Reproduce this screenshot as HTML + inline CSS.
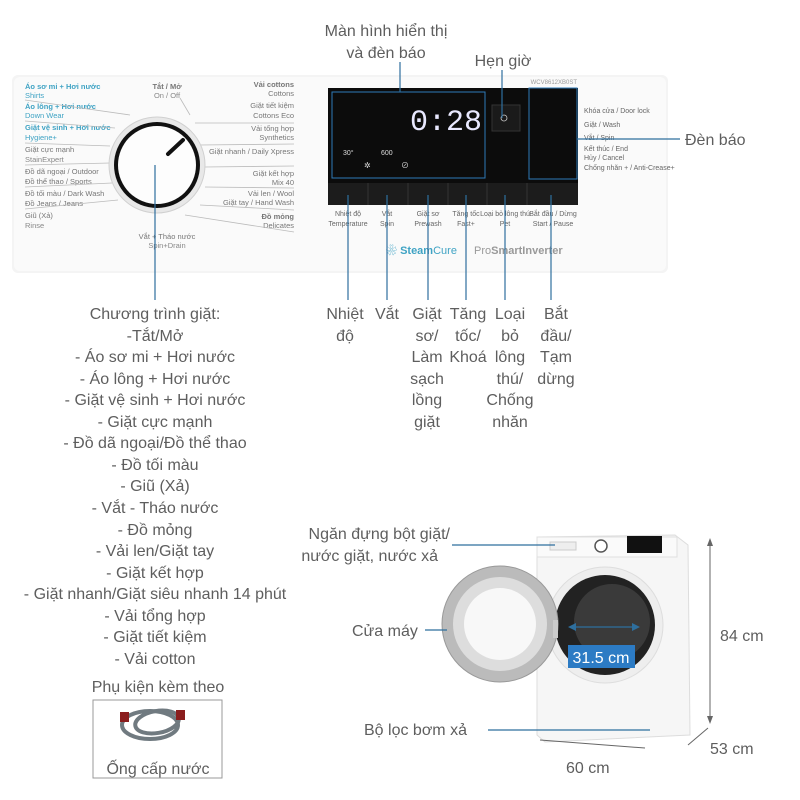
<!DOCTYPE html>
<html><head><meta charset="utf-8"><style>
html,body{margin:0;padding:0;background:#fff;}
svg{display:block;font-family:"Liberation Sans","Noto Sans CJK SC",sans-serif;}
.t{fill:#5e5e5e;font-size:16px;}
.s{fill:#666;font-size:7px;}
</style></head><body>
<svg width="800" height="800" viewBox="0 0 800 800" xmlns="http://www.w3.org/2000/svg">
<rect x="12" y="75" width="656" height="198" rx="6" fill="#f4f4f4"/>
<rect x="14" y="77" width="652" height="194" rx="6" fill="#fafafa"/>
<g font-size="7.5">
<text x="25" y="89" fill="#3fa3c4" font-weight="bold">Áo sơ mi + Hơi nước</text>
<text x="25" y="98" fill="#3fa3c4">Shirts</text>
<text x="25" y="109" fill="#3fa3c4" font-weight="bold">Áo lông + Hơi nước</text>
<text x="25" y="118" fill="#3fa3c4">Down Wear</text>
<text x="25" y="130" fill="#3fa3c4" font-weight="bold">Giặt vệ sinh + Hơi nước</text>
<text x="25" y="140" fill="#3fa3c4">Hygiene+</text>
<text x="25" y="152" fill="#777">Giặt cực mạnh</text>
<text x="25" y="162" fill="#888">StainExpert</text>
<text x="25" y="174" fill="#777">Đồ dã ngoại / Outdoor</text>
<text x="25" y="184" fill="#777">Đồ thể thao / Sports</text>
<text x="25" y="196" fill="#777">Đồ tối màu / Dark Wash</text>
<text x="25" y="206" fill="#777">Đồ Jeans / Jeans</text>
<text x="25" y="218" fill="#777">Giũ (Xả)</text>
<text x="25" y="228" fill="#888">Rinse</text>
<text x="167" y="89" fill="#777" text-anchor="middle" font-weight="bold">Tắt / Mở</text>
<text x="167" y="98" fill="#888" text-anchor="middle">On / Off</text>
<text x="167" y="239" fill="#777" text-anchor="middle">Vắt + Tháo nước</text>
<text x="167" y="248" fill="#888" text-anchor="middle">Spin+Drain</text>
<g text-anchor="end" fill="#777">
<text x="294" y="87" font-weight="bold">Vải cottons</text><text x="294" y="96">Cottons</text>
<text x="294" y="108">Giặt tiết kiệm</text><text x="294" y="118">Cottons Eco</text>
<text x="294" y="131">Vải tổng hợp</text><text x="294" y="140">Synthetics</text>
<text x="294" y="154">Giặt nhanh / Daily Xpress</text>
<text x="294" y="176">Giặt kết hợp</text><text x="294" y="185">Mix 40</text>
<text x="294" y="196">Vải len / Wool</text><text x="294" y="205">Giặt tay / Hand Wash</text>
<text x="294" y="219" font-weight="bold">Đồ mỏng</text><text x="294" y="228">Delicates</text>
</g>
</g>
<g stroke="#bbb" stroke-width="0.8" fill="none">
<line x1="25" y1="100" x2="130" y2="115"/><line x1="25" y1="121" x2="115" y2="128"/>
<line x1="25" y1="143" x2="110" y2="146"/><line x1="25" y1="165" x2="110" y2="163"/>
<line x1="25" y1="187" x2="112" y2="183"/><line x1="25" y1="209" x2="118" y2="200"/>
<line x1="180" y1="98" x2="190" y2="115"/><line x1="195" y1="123" x2="294" y2="123"/>
<line x1="200" y1="145" x2="294" y2="144"/><line x1="205" y1="167" x2="294" y2="166"/>
<line x1="205" y1="187" x2="294" y2="188"/><line x1="200" y1="205" x2="294" y2="210"/>
<line x1="185" y1="215" x2="294" y2="232"/>
</g>
<circle cx="157" cy="165" r="48" fill="#e8e8e8" stroke="#d0d0d0"/>
<circle cx="157" cy="165" r="43" fill="#111"/>
<circle cx="157" cy="165" r="39" fill="#fdfdfd"/>
<line x1="168" y1="154" x2="183" y2="140" stroke="#111" stroke-width="4" stroke-linecap="round"/>
<rect x="328" y="88" width="250" height="117" fill="#0c0c0c"/>
<rect x="332" y="92" width="153" height="86" fill="none" stroke="#2e7ab8" stroke-width="1"/>
<text x="446" y="130" fill="#e8e8ff" font-size="30" text-anchor="middle" font-family="Liberation Mono,monospace">0:28</text>
<text x="343" y="155" fill="#ddd" font-size="7">30°</text>
<text x="381" y="155" fill="#ddd" font-size="7">600</text>
<text x="364" y="168" fill="#ddd" font-size="8">✲</text>
<text x="401" y="168" fill="#ddd" font-size="8">⊘</text>
<rect x="492" y="105" width="28" height="26" fill="#1a1a1a" stroke="#333"/>
<circle cx="504" cy="118" r="3" fill="none" stroke="#ccc" stroke-width="0.8"/>
<rect x="529" y="88" width="48" height="91" fill="none" stroke="#2e7ab8" stroke-width="1"/>
<rect x="328" y="183" width="250" height="22" fill="#1c1c1c"/>
<g stroke="#333"><line x1="368" y1="183" x2="368" y2="205"/><line x1="408" y1="183" x2="408" y2="205"/><line x1="448" y1="183" x2="448" y2="205"/><line x1="487" y1="183" x2="487" y2="205"/><line x1="527" y1="183" x2="527" y2="205"/></g>
<text x="577" y="84" fill="#999" font-size="6" text-anchor="end">WCV8612XB0ST</text>
<g class="s" font-size="5.5" fill="#999">
<text x="584" y="113">Khóa cửa / Door lock</text><text x="584" y="127">Giặt / Wash</text>
<text x="584" y="140">Vắt / Spin</text><text x="584" y="151">Kết thúc / End</text>
<text x="584" y="160">Hủy / Cancel</text><text x="584" y="170">Chống nhăn + / Anti-Crease+</text>
<text x="348" y="216" text-anchor="middle">Nhiệt độ</text><text x="387" y="216" text-anchor="middle">Vắt</text>
<text x="428" y="216" text-anchor="middle">Giặt sơ</text><text x="466" y="216" text-anchor="middle">Tăng tốc</text>
<text x="505" y="216" text-anchor="middle">Loại bỏ lông thú</text><text x="553" y="216" text-anchor="middle">Bắt đầu / Dừng</text>
<text x="348" y="226" text-anchor="middle">Temperature</text><text x="387" y="226" text-anchor="middle">Spin</text>
<text x="428" y="226" text-anchor="middle">Prewash</text><text x="466" y="226" text-anchor="middle">Fast+</text>
<text x="505" y="226" text-anchor="middle">Pet</text><text x="553" y="226" text-anchor="middle">Start / Pause</text>
</g>
<text x="386" y="254" fill="#3fa3c4" font-size="11"><tspan>❀ </tspan><tspan font-weight="bold">Steam</tspan>Cure</text>
<text x="474" y="254" fill="#999" font-size="11">Pro<tspan font-weight="bold">SmartInverter</tspan></text>
<g stroke="#2e6f9e" stroke-width="1.2">
<line x1="155" y1="165" x2="155" y2="300"/>
<line x1="348" y1="195" x2="348" y2="300"/><line x1="387" y1="195" x2="387" y2="300"/>
<line x1="428" y1="195" x2="428" y2="300"/><line x1="466" y1="195" x2="466" y2="300"/>
<line x1="505" y1="195" x2="505" y2="300"/><line x1="551" y1="195" x2="551" y2="300"/>
<line x1="400" y1="62" x2="400" y2="92"/><line x1="502" y1="70" x2="502" y2="118"/>
<line x1="577" y1="139" x2="680" y2="139"/>
</g>
<text x="386" y="36" class="t" text-anchor="middle">Màn hình hiển thị</text>
<text x="386" y="58" class="t" text-anchor="middle">và đèn báo</text>
<text x="503" y="66" class="t" text-anchor="middle">Hẹn giờ</text>
<text x="685" y="145" class="t">Đèn báo</text>
<g class="t" text-anchor="middle">
<text x="345" y="319">Nhiệt</text><text x="345" y="341">độ</text>
<text x="387" y="319">Vắt</text>
<text x="427" y="319">Giặt</text><text x="427" y="341">sơ/</text><text x="427" y="362">Làm</text><text x="427" y="384">sạch</text><text x="427" y="405">lồng</text><text x="427" y="427">giặt</text>
<text x="468" y="319">Tăng</text><text x="468" y="341">tốc/</text><text x="468" y="362">Khoá</text>
<text x="510" y="319">Loại</text><text x="510" y="341">bỏ</text><text x="510" y="362">lông</text><text x="510" y="384">thú/</text><text x="510" y="405">Chống</text><text x="510" y="427">nhăn</text>
<text x="556" y="319">Bắt</text><text x="556" y="341">đầu/</text><text x="556" y="362">Tạm</text><text x="556" y="384">dừng</text>
</g>
<g class="t" text-anchor="middle">
<text x="155" y="319">Chương trình giặt:</text>
<text x="155" y="341">-Tắt/Mở</text>
<text x="155" y="362">- Áo sơ mi + Hơi nước</text>
<text x="155" y="384">- Áo lông + Hơi nước</text>
<text x="155" y="405">- Giặt vệ sinh + Hơi nước</text>
<text x="155" y="427">- Giặt cực mạnh</text>
<text x="155" y="448">- Đồ dã ngoại/Đồ thể thao</text>
<text x="155" y="470">- Đồ tối màu</text>
<text x="155" y="491">- Giũ (Xả)</text>
<text x="155" y="513">- Vắt - Tháo nước</text>
<text x="155" y="535">- Đồ mỏng</text>
<text x="155" y="556">- Vải len/Giặt tay</text>
<text x="155" y="578">- Giặt kết hợp</text>
<text x="155" y="599">- Giặt nhanh/Giặt siêu nhanh 14 phút</text>
<text x="155" y="621">- Vải tổng hợp</text>
<text x="155" y="642">- Giặt tiết kiệm</text>
<text x="155" y="664">- Vải cotton</text>
<text x="158" y="692">Phụ kiện kèm theo</text>
</g>
<rect x="93" y="700" width="129" height="78" fill="#fff" stroke="#999"/>
<g fill="none" stroke="#707a80" stroke-width="4">
<ellipse cx="150" cy="725" rx="28" ry="14"/><ellipse cx="157" cy="722" rx="22" ry="11" transform="rotate(-10 157 722)"/>
</g>
<rect x="120" y="712" width="9" height="10" fill="#8a1d1d"/><rect x="176" y="710" width="9" height="10" fill="#8a1d1d"/>
<text x="158" y="774" class="t" text-anchor="middle">Ống cấp nước</text>
<!-- washer -->
<path d="M537 537 L675 535 L688 545 L690 735 L545 742 L537 735 Z" fill="#f6f6f6" stroke="#ddd"/>
<rect x="537" y="537" width="140" height="20" fill="#fafafa" stroke="#e0e0e0"/>
<rect x="550" y="542" width="26" height="8" fill="#eee" stroke="#ccc"/>
<circle cx="601" cy="546" r="6" fill="#fff" stroke="#555" stroke-width="1.5"/>
<rect x="627" y="536" width="35" height="17" fill="#111"/>
<circle cx="605" cy="625" r="58" fill="#eee" stroke="#ddd"/>
<circle cx="605" cy="625" r="50" fill="#222"/>
<circle cx="612" cy="622" r="38" fill="#3a3a3a"/>
<circle cx="500" cy="624" r="58" fill="#bbb" stroke="#999"/>
<circle cx="500" cy="624" r="47" fill="#ddd"/>
<circle cx="500" cy="624" r="36" fill="#f8f8f8"/>
<rect x="553" y="620" width="5" height="18" fill="#ccc"/>
<g stroke="#2e6f9e" stroke-width="1.3">
<line x1="452" y1="545" x2="555" y2="545"/>
<line x1="425" y1="630" x2="447" y2="630"/>
<line x1="488" y1="730" x2="650" y2="730"/>
<line x1="570" y1="627" x2="637" y2="627"/>
</g>
<path d="M568 627 l8 -4 v8 z M640 627 l-8 -4 v8 z" fill="#2e6f9e"/>
<rect x="568" y="645" width="67" height="23" fill="#2c7bc4"/>
<text x="601" y="663" fill="#fff" font-size="16" text-anchor="middle">31.5 cm</text>
<g stroke="#666" stroke-width="1">
<line x1="710" y1="542" x2="710" y2="720"/>
<line x1="540" y1="740" x2="645" y2="748"/>
<line x1="688" y1="745" x2="708" y2="728"/>
</g>
<path d="M710 538 l-3 8 h6 z M710 724 l-3 -8 h6 z" fill="#666"/>
<text x="450" y="539" class="t" text-anchor="end">Ngăn đựng bột giặt/</text>
<text x="438" y="561" class="t" text-anchor="end">nước giặt, nước xả</text>
<text x="352" y="636" class="t">Cửa máy</text>
<text x="364" y="735" class="t">Bộ lọc bơm xả</text>
<text x="720" y="641" class="t">84 cm</text>
<text x="710" y="754" class="t">53 cm</text>
<text x="566" y="773" class="t">60 cm</text>
</svg>
</body></html>
